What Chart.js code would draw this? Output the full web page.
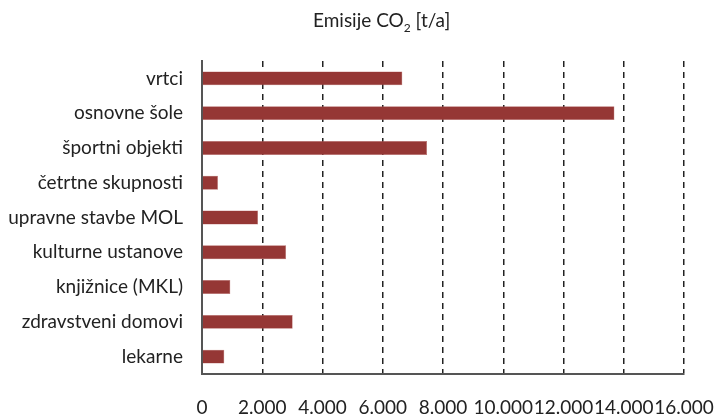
<!DOCTYPE html>
<html>
<head>
  <meta charset="UTF-8">
  <title>Emisije CO2</title>
  <script src="https://cdn.jsdelivr.net/npm/chart.js"></script>
  <style>
    body {
      margin: 0;
      padding: 0;
      background: #fff;
    }
    .wrap {
      position: relative;
      width: 714px;
      height: 414px;
    }
    /* naslov kot navaden tekst nad grafom */
    .title {
      position: absolute;
      left: 313px;
      top: 8px;
      font-family: Lato, "Open Sans", sans-serif;
      font-size: 19px;
      color: #222;
      white-space: nowrap;
    }
    .title sub {
      font-size: 12px;
    }
  </style>
</head>
<body>
<div class="wrap">
  <div class="title">Emisije CO<sub>2</sub> [t/a]</div>
  <canvas id="chart" width="714" height="414"></canvas>
</div>

<script>
  // podatki
  const categories = [
    'vrtci', 'osnovne šole', 'športni objekti', 'četrtne skupnosti',
    'upravne stavbe MOL', 'kulturne ustanove', 'knjižnice (MKL)',
    'zdravstveni domovi', 'lekarne'
  ];
  const emissions = [6650, 13690, 7470, 530, 1860, 2790, 940, 3010, 740];
  const xTicks = [0, 2000, 4000, 6000, 8000, 10000, 12000, 14000, 16000];

  // 2000 -> 2.000
  function formatNumber(num) {
    return num.toString().replace(/\B(?=(\d{3})+(?!\d))/g, ".");
  }

  const font = { family: 'Lato, "Open Sans", sans-serif', size: 19 };

  new Chart(document.getElementById('chart').getContext('2d'), {
    type: 'bar',
    data: {
      labels: categories,
      datasets: [{
        data: emissions,
        backgroundColor: '#953735',
        borderColor: '#b86a68',
        borderWidth: 0.5,
        barPercentage: 0.4,
        categoryPercentage: 1
      }]
    },
    options: {
      indexAxis: 'y',
      responsive: false,
      animation: false,
      layout: { padding: { top: 61, right: 30, left: 0, bottom: 0 } },
      plugins: {
        legend: { display: false },
        tooltip: { enabled: false }
      },
      scales: {
        x: {
          min: 0,
          max: 16000,
          afterBuildTicks: s => { s.ticks = xTicks.map(v => ({ value: v })); },
          afterFit: s => {
            s.height = 40;
            s.paddingRight = 0;
            s.paddingLeft = 0;
          },
          grid: {
            color: c => c.tick.value === 0 ? 'rgba(0,0,0,0)' : '#222',
            lineWidth: 1.5,
            drawTicks: false
          },
          // v4: border.dash velja za mrežne črte
          border: { display: true, color: '#555', width: 2, dash: [6, 5] },
          ticks: {
            autoSkip: false,
            maxRotation: 0,
            padding: 22,
            color: '#222',
            font: font,
            callback: v => formatNumber(v)
          }
        },
        y: {
          afterFit: s => { s.width = 202; },
          grid: { display: false, drawTicks: false },
          border: { display: true, color: '#555', width: 2 },
          ticks: { padding: 19, color: '#222', font: font }
        }
      }
    }
  });
</script>
</body>
</html>
